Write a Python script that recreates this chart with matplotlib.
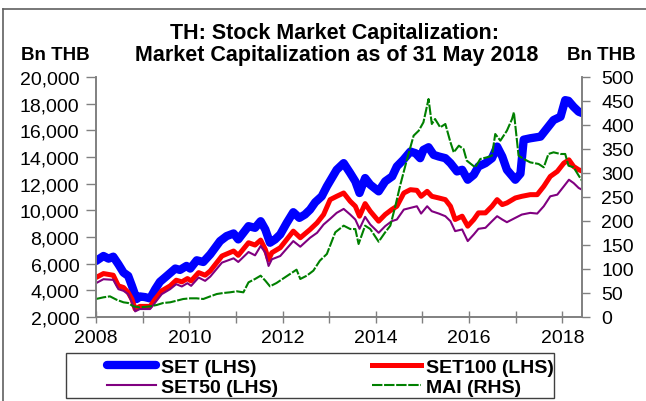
import matplotlib
matplotlib.use("Agg")
import matplotlib.pyplot as plt
from matplotlib.patches import Rectangle
from matplotlib.lines import Line2D
from matplotlib.ticker import FuncFormatter, MultipleLocator

plt.rcParams['font.family'] = ['Liberation Sans', 'DejaVu Sans']

# SET index market cap (Bn THB, LHS), decimal years
set_years = [2008.00, 2008.16, 2008.27, 2008.37, 2008.48, 2008.59, 2008.69, 2008.77, 2008.87, 2008.94,
             2009.05, 2009.16, 2009.27, 2009.37, 2009.52, 2009.70, 2009.80, 2009.94, 2010.02, 2010.16,
             2010.30, 2010.45, 2010.66, 2010.80, 2010.95, 2011.05, 2011.16, 2011.27, 2011.41, 2011.53,
             2011.63, 2011.73, 2011.84, 2011.95, 2012.09, 2012.23, 2012.36, 2012.48, 2012.59, 2012.70,
             2012.84, 2012.95, 2013.16, 2013.31, 2013.45, 2013.56, 2013.65, 2013.77, 2013.88, 2014.06,
             2014.20, 2014.35, 2014.45, 2014.59, 2014.74, 2014.85, 2014.95, 2015.02, 2015.13, 2015.24,
             2015.35, 2015.49, 2015.60, 2015.74, 2015.85, 2015.97, 2016.10, 2016.20, 2016.35, 2016.49,
             2016.60, 2016.71, 2016.81, 2016.99, 2017.10, 2017.17, 2017.31, 2017.53, 2017.67, 2017.81,
             2017.96, 2018.06, 2018.13, 2018.24, 2018.35, 2018.42]
set_values = [6200, 6575, 6375, 6525, 5955, 5330, 5085, 4337, 3343, 3543,
              3492, 3393, 4089, 4635, 5085, 5633, 5531, 5830, 5633, 6252,
              6128, 6700, 7694, 8067, 8266, 7819, 8316, 8813, 8689, 9185,
              8565, 7570, 7819, 8192, 9062, 9858, 9435, 9684, 10057, 10604,
              11052, 11798, 13041, 13539, 12793, 12171, 11300, 12420, 11922, 11424,
              12171, 12544, 13290, 13787, 14409, 14285, 13912, 14533, 14732, 14160,
              14036, 13912, 13539, 12917, 13041, 12295, 12668, 13290, 13539, 13912,
              14782, 14036, 13041, 12295, 12750, 15300, 15404, 15528, 16150, 16771,
              17020, 18263, 18213, 17765, 17392, 17300]

# SET100 and SET50 share the same sampling dates
sub_years = [2008.00, 2008.16, 2008.37, 2008.48, 2008.59, 2008.69, 2008.77, 2008.84, 2008.94, 2009.16,
             2009.27, 2009.41, 2009.59, 2009.72, 2009.84, 2009.96, 2010.04, 2010.20, 2010.34, 2010.45,
             2010.70, 2010.95, 2011.05, 2011.27, 2011.41, 2011.53, 2011.63, 2011.70, 2011.77, 2011.95,
             2012.23, 2012.38, 2012.59, 2012.74, 2012.88, 2013.02, 2013.16, 2013.31, 2013.45, 2013.56,
             2013.65, 2013.77, 2013.88, 2014.06, 2014.20, 2014.34, 2014.45, 2014.60, 2014.74, 2014.88,
             2014.97, 2015.10, 2015.20, 2015.35, 2015.49, 2015.60, 2015.70, 2015.85, 2015.97, 2016.10,
             2016.20, 2016.35, 2016.49, 2016.60, 2016.71, 2016.81, 2016.99, 2017.13, 2017.31, 2017.46,
             2017.60, 2017.74, 2017.89, 2018.03, 2018.14, 2018.24, 2018.35, 2018.42]
set100_values = [4960, 5257, 5133, 4337, 4213, 3840, 3343, 2597, 2796, 2796,
                 3343, 3964, 4337, 4760, 4635, 4884, 4710, 5330, 5133, 5457,
                 6575, 6948, 6625, 7570, 7396, 7769, 7073, 6300, 6824, 7197,
                 8440, 7943, 8565, 9062, 9684, 10803, 11052, 11300, 10678, 10306,
                 9560, 10504, 9933, 9185, 9684, 10057, 10306, 11300, 11549, 11499,
                 11052, 11424, 11052, 10927, 10803, 10306, 9311, 9560, 8813, 9311,
                 9809, 9809, 10306, 10803, 10430, 10554, 10927, 11052, 11176, 11176,
                 11798, 12544, 12917, 13539, 13787, 13290, 13041, 12950]
set50_values = [4536, 4835, 4785, 4089, 3964, 3716, 3094, 2423, 2597, 2597,
                3094, 3716, 4089, 4462, 4288, 4536, 4337, 4960, 4710, 5033,
                6078, 6401, 6128, 6874, 6625, 7322, 6824, 5830, 6327, 6575,
                7694, 7272, 7943, 8316, 8938, 9362, 9809, 10107, 9684, 9311,
                8615, 9511, 8938, 8316, 8813, 9185, 9311, 10057, 10182, 10306,
                9758, 10306, 9933, 9758, 9560, 9185, 8440, 8565, 7694, 8192,
                8615, 8689, 9185, 9560, 9311, 9110, 9435, 9684, 9809, 9758,
                10306, 11052, 11176, 11798, 12295, 12047, 11673, 11550]

# MAI market cap (Bn THB, RHS)
mai_years = [2008.00, 2008.16, 2008.30, 2008.44, 2008.59, 2008.69, 2008.80, 2008.94, 2009.16, 2009.30,
             2009.44, 2009.59, 2009.73, 2009.87, 2010.02, 2010.16, 2010.30, 2010.45, 2010.59, 2010.73,
             2010.87, 2011.02, 2011.16, 2011.27, 2011.41, 2011.53, 2011.63, 2011.73, 2011.87, 2012.02,
             2012.16, 2012.30, 2012.38, 2012.52, 2012.66, 2012.80, 2012.95, 2013.13, 2013.31, 2013.45,
             2013.56, 2013.63, 2013.77, 2013.88, 2014.06, 2014.20, 2014.31, 2014.42, 2014.52, 2014.67,
             2014.81, 2014.92, 2015.02, 2015.13, 2015.20, 2015.27, 2015.38, 2015.49, 2015.60, 2015.67,
             2015.78, 2015.88, 2015.95, 2016.13, 2016.24, 2016.38, 2016.49, 2016.56, 2016.67, 2016.81,
             2016.92, 2016.96, 2017.06, 2017.17, 2017.31, 2017.49, 2017.60, 2017.70, 2017.81, 2017.96,
             2018.06, 2018.13, 2018.24, 2018.35, 2018.42]
mai_values = [37.5, 41, 43, 36, 30.6, 29.2, 22.2, 20.1, 22.2, 25,
              29.2, 30.6, 34, 37.5, 38.9, 38.9, 37.5, 43, 47.9, 50,
              51.4, 53.5, 51.4, 72.2, 79.2, 86.1, 75.7, 63.9, 70.8, 80.6,
              89.6, 98.6, 79.2, 86.1, 96.5, 117.4, 131.3, 176.4, 190.3, 183.3,
              183.3, 152.1, 190.3, 183.3, 156.9, 176.4, 190.3, 231.9, 273.6, 329.2,
              377.8, 388.2, 405.6, 454.2, 402.1, 412.5, 395.1, 402.1, 363.9, 343.1,
              356.9, 350, 325.7, 311.8, 329.2, 332.6, 336.1, 381.2, 367.4, 388.2,
              412.5, 426.4, 336.1, 329.2, 322.2, 318.8, 311.8, 339.6, 343.1, 339.6,
              339.6, 315.3, 311.8, 294.4, 284]

W, H = 646, 402
fig = plt.figure(figsize=(W / 100, H / 100), dpi=100)
ax = fig.add_axes([96 / W, 1 - 318 / H, (582 - 96) / W, (318 - 78) / H])
ax2 = ax.twinx()

l_set, = ax.plot(set_years, set_values, color='#0000FF', lw=6, solid_capstyle='round', label='SET (LHS)')
l_100, = ax.plot(sub_years, set100_values, color='#FF0000', lw=3.6, label='SET100 (LHS)')
l_50, = ax.plot(sub_years, set50_values, color='#800080', lw=1.5, label='SET50 (LHS)')
l_mai, = ax2.plot(mai_years, mai_values, color='#008000', lw=1.5, linestyle=(0, (5, 0.8)), label='MAI (RHS)')

ax.set_xlim(2008, 2018.42)
ax.set_ylim(2000, 20000)
ax2.set_ylim(0, 500)
ax.yaxis.set_major_locator(MultipleLocator(2000))
ax.yaxis.set_major_formatter(FuncFormatter(lambda v, p: f'{int(v):,}'))
ax2.yaxis.set_major_locator(MultipleLocator(50))
ax.xaxis.set_major_locator(MultipleLocator(2))
ax.xaxis.set_minor_locator(MultipleLocator(1))
ax.xaxis.set_major_formatter(FuncFormatter(lambda v, p: f'{int(round(v))}'))

spine_col = '#808080'
for a in (ax, ax2):
    a.spines['top'].set_visible(False)
    for s in ('left', 'right', 'bottom'):
        a.spines[s].set_color(spine_col)
        a.spines[s].set_linewidth(1.2)
ax.tick_params(axis='y', direction='out', length=7, width=1, color=spine_col, labelsize=14, pad=5)
ax2.tick_params(axis='y', direction='out', length=6, width=1, color=spine_col, labelsize=14, pad=8)
ax.tick_params(axis='x', which='both', direction='inout', length=8, width=1, color=spine_col,
               labelsize=14, pad=5)

# titles and unit labels
fig.text(334 / W, 1 - 33 / H, 'TH: Stock Market Capitalization:', ha='center', va='center',
         fontsize=15.5, fontweight='bold')
fig.text(337 / W, 1 - 55 / H, 'Market Capitalization as of 31 May 2018', ha='center', va='center',
         fontsize=15.5, fontweight='bold')
fig.text(55 / W, 1 - 55 / H, 'Bn THB', ha='center', va='center', fontsize=13.5, fontweight='bold')
fig.text(601 / W, 1 - 55 / H, 'Bn THB', ha='center', va='center', fontsize=13.5, fontweight='bold')

# legend (frame drawn separately)
leg = fig.legend(handles=[l_set, l_50, l_100, l_mai], ncol=2, frameon=False,
                 loc='upper left', bbox_to_anchor=(107 / W, 1 - 359 / H),
                 prop={'weight': 'bold', 'size': 14}, borderpad=0, borderaxespad=0,
                 handlelength=2.5, handletextpad=0.3, columnspacing=4.8, labelspacing=0.14)
fig.add_artist(Rectangle((66 / W, 1 - 399 / H), 488 / W, 45 / H, transform=fig.transFigure,
                         fill=False, edgecolor='#404040', lw=1))

# outer border (top and left only)
fig.add_artist(Line2D([3 / W, 1], [1 - 10 / H, 1 - 10 / H], transform=fig.transFigure,
                      color='#606060', lw=1.2))
fig.add_artist(Line2D([3 / W, 3 / W], [0, 1 - 10 / H], transform=fig.transFigure,
                      color='#606060', lw=1.2))

fig.savefig('out.png', dpi=100)
